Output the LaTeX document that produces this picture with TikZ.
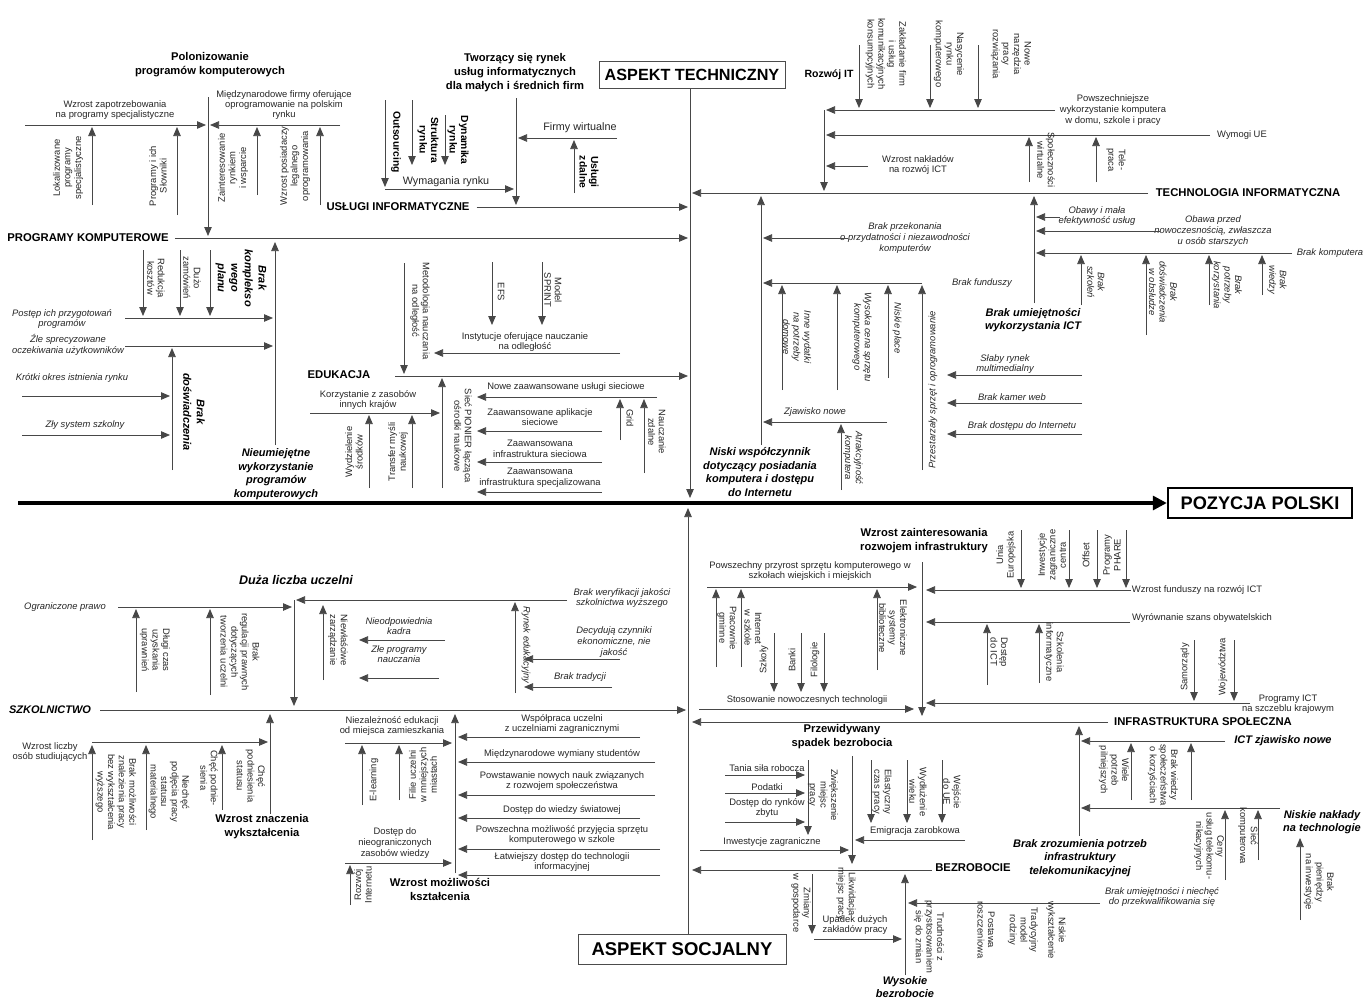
\documentclass[tikz,border=0pt]{standalone}
\usepackage{fontspec}
\setmainfont{Liberation Sans}
\usetikzlibrary{arrows.meta}
% \arw[style]{name}{from}{to}: named end points, then the connector between them
\newcommand\arw[4][arr]{\coordinate (#2a) at (#3);\coordinate (#2b) at (#4);\draw[#1] (#2a) -- (#2b);}
\begin{document}
\begin{tikzpicture}[x=1pt,y=-1pt,
  ln/.style={draw=black!72,line width=0.75pt},
  arr/.style={ln,-{Triangle[length=9pt,width=7.5pt]}},
  t/.style={font=\fontsize{9.4}{10.6}\selectfont,align=center,inner sep=0pt,text=black!85},
  ti/.style={t,font=\fontsize{9.4}{10.6}\selectfont\itshape},
  tv/.style={t,rotate=-90},
  tu/.style={t,rotate=90},
  tvi/.style={ti,rotate=-90},
  tui/.style={ti,rotate=90},
  hd/.style={font=\fontsize{11.3}{13}\selectfont\bfseries,inner sep=0pt,align=center},
  hb/.style={font=\fontsize{11.2}{14}\selectfont\bfseries,inner sep=0pt,align=center},
  hv/.style={font=\fontsize{10.3}{11.5}\selectfont\bfseries,inner sep=0pt,align=center,rotate=-90},
  hi/.style={font=\fontsize{11}{13.6}\selectfont\bfseries\itshape,inner sep=0pt,align=center},
  box/.style={draw=black!70,line width=0.8pt,inner sep=0pt,font=\bfseries}
]
\useasboundingbox[fill=white] (0,0) rectangle (1366,1001);

% ---------- spine and aspects ----------
\node[box,draw=black,line width=2.4pt,minimum width=184pt,minimum height=30pt,font=\fontsize{18.2}{20}\selectfont\bfseries] (pp) at (1260,503) {POZYCJA POLSKI};
\coordinate (sp0) at (18,503);
\draw[line width=3.2pt,-{Triangle[length=14pt,width=14pt]}] (sp0) -- (pp.west);
\node[box,minimum width=186pt,minimum height=27pt,font=\fontsize{16.2}{18}\selectfont\bfseries] (atech) at (692,75) {ASPEKT TECHNICZNY};
\node[box,minimum width=208pt,minimum height=30pt,font=\fontsize{18.5}{20}\selectfont\bfseries] (asoc) at (682,949) {ASPEKT SOCJALNY};
\coordinate (ctop) at (690,498);
\coordinate (cbot) at (688,508);
\draw[arr] (atech.south -| ctop) -- (ctop);
\draw[arr] (asoc.north -| cbot) -- (cbot);

% ---------- PROGRAMY KOMPUTEROWE ----------
\node[hd] (pk) at (88,238) {PROGRAMY KOMPUTEROWE};
\coordinate (pkE) at (688,238);
\draw[arr,shorten <=6pt] (pk.east) -- (pkE);
\node[hb] (pol) at (210,65) {Polonizowanie\\programów komputerowych};
\arw{p1}{208,97}{208,236}
\arw{p2}{25,125}{206,125}
\arw{p3}{340,125}{210,125}
\node[t] (pt1) at (115,110) {Wzrost zapotrzebowania\\na programy specjalistyczne};
\arw{p4}{92,205}{92,127}
\node[tu] (pt2) at (68,168) {Lokalizowane\\programy\\specjalistyczne};
\arw{p5}{177,215}{177,127}
\node[tu] (pt3) at (158,176) {Programy i ich\\Słowniki};
\node[t,font=\fontsize{9.4}{10.3}\selectfont] (pt4) at (284,105) {Międzynarodowe firmy oferujące\\oprogramowanie na polskim\\rynku};
\arw{p6}{257,195}{257,127}
\node[tu] (pt5) at (233,168) {Zainteresowanie\\rynkiem\\i wsparcie};
\arw{p7}{320,205}{320,127}
\node[tu] (pt6) at (295,166) {Wzrost posiadaczy\\legalnego\\oprogramowania};
\node[hi,rotate=-90] (pt7) at (241,278) {Brak\\komplekso\\wego\\planu};
\arw{p8}{143,250}{143,316}
\node[tv] (pt8) at (156,278) {Redukcja\\kosztów};
\arw{p9}{180,250}{180,316}
\node[tv] (pt9) at (192,278) {Dużo\\zamówień};
\arw{p10}{210,250}{210,316}
\node[ti] (pt10) at (62,319) {Postęp ich przygotowań\\programów};
\arw{p11}{125,318}{273,318}
\arw{pkm}{275,445}{275,242}
\node[ti] (pt11) at (68,345) {Źle sprecyzowane\\oczekiwania użytkowników};
\arw{p12}{125,346}{273,346}
\arw{p13}{172,470}{172,348}
\node[hi,rotate=-90] (pt12) at (194,412) {Brak\\doświadczenia};
\node[ti] (pt13) at (72,378) {Krótki okres istnienia rynku};
\arw{p14}{22,396}{170,396}
\node[ti] (pt14) at (85,425) {Zły system szkolny};
\arw{p15}{22,435}{170,435}
\node[hi] (pt15) at (276,474) {Nieumiejętne\\wykorzystanie\\programów\\komputerowych};

% ---------- USŁUGI INFORMATYCZNE ----------
\node[hd] (ui) at (398,207) {USŁUGI INFORMATYCZNE};
\coordinate (uiE) at (688,207);
\draw[arr,shorten <=7pt] (ui.east) -- (uiE);
\node[hb] (ut1) at (515,73) {Tworzący się rynek\\usług informatycznych\\dla małych i średnich firm};
\arw{u1}{516,98}{516,205}
\node[t,font=\fontsize{10.8}{12}\selectfont] (ut2) at (580,128) {Firmy wirtualne};
\arw{u2}{617,138}{518,138}
\arw{u3}{574,193}{574,140}
\node[hv] (ut3) at (589,172) {Usługi\\zdalne};
\node[t,font=\fontsize{10.8}{12}\selectfont] (ut4) at (446,182) {Wymagania rynku};
\arw{u4}{385,189}{514,189}
\arw{u5}{385,100}{385,187}
\node[hv] (ut5) at (396,142) {Outsourcing};
\arw{u6}{412,100}{412,165}
\node[hv] (ut6) at (428,140) {Struktura\\rynku};
\arw{u7}{445,115}{445,165}
\node[hv] (ut7) at (458,140) {Dynamika\\rynku};

% ---------- EDUKACJA ----------
\node[hd] (ed) at (339,375) {EDUKACJA};
\arw{edm}{395,376}{688,376}
\arw{e1}{404,263}{404,374}
\node[tv] (et1) at (420,311) {Metodologia nauczania\\na odległość};
\node[t] (et2) at (525,342) {Instytucje oferujące nauczanie\\na odległość};
\arw{e2}{620,353}{434,353}
\arw{e3}{492,262}{492,325}
\node[tv] (et3) at (501,292) {EFS};
\arw{e4}{542,262}{542,325}
\node[tv] (et4) at (553,290) {Model\\SPRINT};
\node[t] (et5) at (368,400) {Korzystanie z zasobów\\innych krajów};
\arw{e5}{310,413}{440,413}
\arw{ed1}{442,488}{442,378}
\arw{e6}{369,488}{369,415}
\node[tu] (et6) at (354,452) {Wydzielenie\\środków};
\arw{e7}{412,488}{412,415}
\node[tu] (et7) at (398,452) {Transfer myśli\\naukowej};
\node[tv] (et8) at (463,436) {Sieć PIONIER łącząca\\ośrodki naukowe};
\node[t] (et9) at (566,387) {Nowe zaawansowane usługi sieciowe};
\arw{e8}{657,397}{477,397}
\node[t] (et10) at (540,417) {Zaawansowane aplikacje\\sieciowe};
\arw{e9}{602,431}{477,431}
\node[t] (et11) at (540,449) {Zaawansowana\\infrastruktura sieciowa};
\arw{e10}{602,462}{477,462}
\node[t] (et12) at (540,478) {Zaawansowana\\infrastruktura specjalizowana};
\arw{e11}{602,492}{477,492}
\arw{e12}{620,440}{620,399}
\node[tv] (et13) at (630,418) {Grid};
\arw{e13}{644,473}{644,399}
\node[tv] (et14) at (657,432) {Nauczanie\\zdalne};

% ---------- TECHNOLOGIA INFORMATYCZNA ----------
\node[hd] (tin) at (1248,193) {TECHNOLOGIA INFORMATYCZNA};
\arw{tim}{1148,193}{692,193}
\node[hd,font=\fontsize{10.5}{12}\selectfont\bfseries] (rit) at (829,75) {Rozwój IT};
\arw{ti1}{824,110}{824,191}
\arw{ti2}{1055,110}{826,110}
\node[t] (tt1) at (1113,110) {Powszechniejsze\\wykorzystanie komputera\\w domu, szkole i pracy};
\arw{ti7}{859,45}{859,108}
\node[tv] (tt2) at (886,54) {Zakładanie firm\\i usług\\komunikacyjnych\\konsumpcyjnych};
\arw{ti8}{930,45}{930,108}
\node[tv] (tt3) at (949,54) {Nasycenie\\rynku\\komputerowego};
\arw{ti9}{978,45}{978,108}
\node[tv] (tt4) at (1011,54) {Nowe\\narzędzia\\pracy\\rozwiązania};
\arw{ti3}{1210,135}{826,135}
\node[t] (tt5) at (1242,135) {Wymogi UE};
\arw{ti4}{1029,182}{1029,137}
\node[tv] (tt6) at (1046,160) {Społeczności\\wirtualne};
\arw{ti5}{1096,182}{1096,137}
\node[tv] (tt7) at (1116,160) {Tele-\\praca};
\arw{ti6}{868,166}{826,166}
\node[t] (tt8) at (918,165) {Wzrost nakładów\\na rozwój ICT};

% ---------- Brak umiejętności wykorzystania ICT ----------
\arw{bu}{1034,303}{1034,196}
\node[hi] (bt1) at (1033,320) {Brak umiejętności\\wykorzystania ICT};
\node[ti] (bt2) at (1097,216) {Obawy i mała\\efektywność usług};
\arw{bu1}{1060,217}{1036,217}
\node[ti] (bt3) at (1213,231) {Obawa przed\\nowoczesnością, zwłaszcza\\u osób starszych};
\arw{bu2}{1160,231}{1036,231}
\node[ti] (bt4) at (1330,253) {Brak komputera};
\arw{bu3}{1292,253}{1036,253}
\arw{bu7}{1081,305}{1081,255}
\node[tvi] (bt5) at (1096,282) {Brak\\szkoleń};
\arw{bu8}{1146,335}{1146,255}
\node[tvi] (bt6) at (1163,292) {Brak\\doświadczenia\\w obsłudze};
\arw{bu9}{1209,305}{1209,255}
\node[tvi] (bt7) at (1227,285) {Brak\\potrzeby\\korzystania};
\arw{bu10}{1262,295}{1262,255}
\node[tvi] (bt8) at (1277,280) {Brak\\wiedzy};
\node[ti] (bt9) at (1005,364) {Słaby rynek\\multimedialny};
\arw{bu4}{1082,375}{947,375}
\node[ti] (bt10) at (1012,397) {Brak kamer web};
\arw{bu5}{1082,403}{947,403}
\node[ti] (bt11) at (1022,426) {Brak dostępu do Internetu};
\arw{bu6}{1082,434}{947,434}

% ---------- Niski współczynnik ----------
\arw{nw}{761,445}{761,196}
\node[hi] (nt1) at (760,472) {Niski współczynnik\\dotyczący posiadania\\komputera i dostępu\\do Internetu};
\node[ti] (nt2) at (905,238) {Brak przekonania\\o przydatności i niezawodności\\komputerów};
\arw{nw1}{848,238}{763,238}
\node[ti] (nt3) at (982,283) {Brak funduszy};
\arw{nw2}{922,283}{763,283}
\arw{nw5}{782,390}{782,285}
\node[tvi] (nt4) at (797,337) {Inne wydatki\\na potrzeby\\domowe};
\arw{nw6}{837,390}{837,285}
\node[tvi] (nt5) at (862,337) {Wysoka cena sprzętu\\komputerowego};
\arw{nw7}{888,378}{888,285}
\node[tvi] (nt6) at (897,328) {Niskie płace};
\arw{nw8}{922,470}{922,285}
\node[tui] (nt7) at (933,390) {Przestarzały sprzęt i oprogramowanie};
\node[ti] (nt8) at (815,412) {Zjawisko nowe};
\arw{nw3}{887,422}{763,422}
\arw{nw4}{841,490}{841,424}
\node[tvi] (nt9) at (853,458) {Atrakcyjność\\komputera};

% ---------- SZKOLNICTWO ----------
\node[hi] (sz) at (50,710) {SZKOLNICTWO};
\arw{szm}{100,710}{686,710}
\node[hi,font=\fontsize{12.5}{14}\selectfont\bfseries\itshape] (st1) at (296,580) {Duża liczba uczelni};
\arw{dl}{294,600}{294,706}
\node[ti] (st2) at (65,607) {Ograniczone prawo};
\arw{dl1}{118,607}{292,607}
\arw{dl2}{136,692}{136,609}
\node[tv] (st3) at (155,650) {Długi czas\\uzyskania\\uprawnień};
\arw{dl3}{210,695}{210,609}
\node[tv] (st4) at (240,652) {Brak\\regulacji prawnych\\dotyczących\\tworzenia uczelni};
\node[ti] (st5) at (622,598) {Brak weryfikacji jakości\\szkolnictwa wyższego};
\arw{dl4}{567,600}{296,600}
\arw{dl5}{515,693}{515,602}
\node[tvi] (st6) at (526,645) {Rynek edukacyjny};
\node[ti] (st7) at (614,642) {Decydują czynniki\\ekonomiczne, nie\\jakość};
\arw{dl6}{620,659}{524,659}
\node[ti] (st8) at (580,677) {Brak tradycji};
\arw{dl7}{612,687}{524,687}
\arw{dl8}{323,680}{323,605}
\node[tv] (st9) at (338,640) {Niewłaściwe\\zarządzanie};
\node[ti] (st10) at (399,626) {Nieodpowiednia\\kadra};
\arw{dl9}{445,640}{359,640}
\node[ti] (st11) at (399,654) {Złe programy\\nauczania};
\arw{dl10}{439,678}{359,678}
\node[t] (st12) at (50,752) {Wzrost liczby\\osób studiujących};
\arw{ws1}{92,742}{268,742}
\arw{wz}{270,814}{270,714}
\node[hb] (st13) at (262,827) {Wzrost znaczenia\\wykształcenia};
\arw{ws2}{92,840}{92,745}
\node[tv] (st14) at (116,792) {Brak możliwości\\znalezienia pracy\\bez wykształcenia\\wyższego};
\arw{ws3}{146,830}{146,745}
\node[tv] (st15) at (169,792) {Niechęć\\podjęcia pracy\\statusu\\materialnego};
\arw{ws4}{222,810}{222,745}
\node[tv] (st16) at (209,778) {Chęć podnie-\\sienia};
\node[tv] (st17) at (251,776) {Chęć\\podniesienia\\statusu};

% ---------- Wzrost możliwości kształcenia ----------
\arw{wm}{455,873}{455,714}
\node[hb] (mt1) at (440,889) {Wzrost możliwości\\kształcenia};
\node[t] (mt2) at (392,726) {Niezależność edukacji\\od miejsca zamieszkania};
\arw{wm1}{345,743}{452,743}
\arw{wm2}{362,805}{362,745}
\node[tu] (mt3) at (374,780) {E-learning};
\arw{wm3}{399,800}{399,745}
\node[tu] (mt4) at (423,775) {Filie uczelni\\w mniejszych\\miastach};
\node[t] (mt5) at (562,724) {Współpraca uczelni\\z uczelniami zagranicznymi};
\arw{wm4}{640,737}{458,737}
\node[t] (mt6) at (562,754) {Międzynarodowe wymiany studentów};
\arw{wm5}{655,762}{458,762}
\node[t] (mt7) at (562,781) {Powstawanie nowych nauk związanych\\z rozwojem społeczeństwa};
\arw{wm6}{655,795}{458,795}
\node[t] (mt8) at (562,810) {Dostęp do wiedzy światowej};
\arw{wm7}{640,818}{458,818}
\node[t] (mt9) at (562,835) {Powszechna możliwość przyjęcia sprzętu\\komputerowego w szkole};
\arw{wm8}{660,849}{458,849}
\node[t] (mt10) at (562,862) {Łatwiejszy dostęp do technologii\\informacyjnej};
\arw{wm9}{660,875}{458,875}
\node[t] (mt11) at (395,843) {Dostęp do\\nieograniczonych\\zasobów wiedzy};
\arw{wm10}{345,863}{452,863}
\arw{wm11}{350,905}{350,865}
\node[tu] (mt12) at (363,885) {Rozwój\\Internetu};

% ---------- Wzrost zainteresowania rozwojem infrastruktury ----------
\node[hb] (it1) at (924,541) {Wzrost zainteresowania\\rozwojem infrastruktury};
\arw{wi}{922,562}{922,716}
\node[t] (it2) at (810,571) {Powszechny przyrost sprzętu komputerowego w\\szkołach wiejskich i miejskich};
\arw{wi1}{707,587}{917,587}
\arw{wi2}{716,667}{716,589}
\node[tv] (it3) at (727,628) {Pracownie\\gminne};
\arw{wi3}{741,667}{741,589}
\node[tv] (it4) at (753,628) {Internet\\w szkole};
\arw{wi4}{877,670}{877,589}
\node[tv] (it5) at (893,628) {Elektroniczne\\systemy\\biblioteczne};
\node[t] (it6) at (1197,590) {Wzrost funduszy na rozwój ICT};
\arw{wi5}{1131,590}{926,590}
\arw{wi13}{1021,530}{1021,588}
\node[tu] (it7) at (1006,555) {Unia\\Europejska};
\arw{wi14}{1069,530}{1069,588}
\node[tu] (it8) at (1052,555) {Inwestycje\\zagraniczne\\centra};
\arw{wi15}{1097,530}{1097,588}
\node[tu] (it9) at (1086,555) {Offset};
\arw{wi16}{1126,530}{1126,588}
\node[tu] (it10) at (1112,555) {Programy\\PHARE};
\node[t] (it11) at (1202,618) {Wyrównanie szans obywatelskich};
\arw{wi6}{1130,622}{926,622}
\arw{wi7}{987,685}{987,624}
\node[tv] (it12) at (999,652) {Dostęp\\do ICT};
\arw{wi8}{1039,683}{1039,624}
\node[tv] (it13) at (1054,652) {Szkolenia\\informatyczne};
\node[t] (it14) at (1288,704) {Programy ICT\\na szczeblu krajowym};
\arw{wi9}{1250,703}{926,703}
\arw{wi10}{1194,640}{1194,701}
\node[tu] (it15) at (1185,667) {Samorządy};
\arw{wi11}{1234,640}{1234,701}
\node[tu] (it16) at (1223,667) {Województwa};
\node[t] (it17) at (807,700) {Stosowanie nowoczesnych technologii};
\arw{wi12}{699,709}{914,709}
\arw{wi17}{774,633}{774,692}
\node[tu] (it18) at (764,660) {Szkoły};
\arw{wi18}{801,633}{801,692}
\node[tu] (it19) at (792,660) {Banki};
\arw{wi19}{824,633}{824,692}
\node[tu] (it20) at (815,660) {Filologie};
\node[hd] (is) at (1203,722) {INFRASTRUKTURA SPOŁECZNA};
\arw{ism}{1108,722}{692,722}

% ---------- BEZROBOCIE ----------
\node[hb] (bz1) at (842,737) {Przewidywany\\spadek bezrobocia};
\arw{bzp}{852,756}{852,864}
\node[t] (bz2) at (767,768) {Tania siła robocza};
\arw{bz3}{725,775}{805,775}
\node[t] (bz4) at (767,787) {Podatki};
\arw{bz5}{725,793}{805,793}
\node[t] (bz6) at (767,808) {Dostęp do rynków\\zbytu};
\arw{bz7}{725,822}{805,822}
\arw{bz8}{808,760}{808,835}
\node[tv] (bz9) at (823,795) {Zwiększenie\\miejsc\\pracy};
\node[t] (bz10) at (772,842) {Inwestycje zagraniczne};
\arw{bz11}{700,850}{849,850}
\arw{bz12}{871,760}{871,823}
\node[tv] (bz13) at (882,792) {Elastyczny\\czas pracy};
\arw{bz14}{907,760}{907,823}
\node[tv] (bz15) at (918,792) {Wydłużenie\\wieku};
\arw{bz16}{942,760}{942,823}
\node[tv] (bz17) at (952,792) {Wejście\\do UE};
\node[t] (bz18) at (915,831) {Emigracja zarobkowa};
\arw{bz19}{965,840}{855,840}
\node[hd] (bzr) at (973,868) {BEZROBOCIE};
\arw{bzm}{932,870}{692,870}
\arw{bz20}{812,874}{812,934}
\node[tv] (bz21) at (801,903) {Zmiany\\w gospodarce};
\node[tv] (bz23) at (846,894) {Likwidacja\\miejsc pracy};
\node[t] (bz24) at (855,925) {Upadek dużych\\zakładów pracy};
\arw{bz22}{814,939}{902,939}
\arw{bz25}{905,975}{905,874}
\node[hi] (bz26) at (905,987) {Wysokie\\bezrobocie};
\node[ti] (bz27) at (1162,897) {Brak umiejętności i niechęć\\do przekwalifikowania się};
\arw{bz28}{1100,903}{908,903}
\node[tv] (bz29) at (929,937) {Trudności z\\przystosowaniem\\się do zmian};
\node[tv] (bz30) at (986,930) {Postawa\\roszczeniowa};
\node[tv] (bz31) at (1023,930) {Tradycyjny\\model\\rodziny};
\node[tv] (bz32) at (1056,930) {Niskie\\wykształcenie};

% ---------- Brak zrozumienia potrzeb infrastruktury ----------
\node[hi] (ct1) at (1283,741) {ICT zjawisko nowe};
\arw{ic}{1225,741}{1081,741}
\arw{icm}{1079,836}{1079,726}
\node[hi] (ct2) at (1080,858) {Brak zrozumienia potrzeb\\infrastruktury\\telekomunikacyjnej};
\arw{ic1}{1131,800}{1131,743}
\node[tv] (ct3) at (1114,770) {Wiele\\potrzeb\\pilniejszych};
\arw{ic2}{1191,800}{1191,743}
\node[tv] (ct4) at (1163,775) {Brak wiedzy\\społeczeństwa\\o korzyściach};
\node[hi] (ct5) at (1322,822) {Niskie nakłady\\na technologie};
\arw{ic3}{1280,808}{1081,808}
\arw{ic4}{1225,880}{1225,810}
\node[tv] (ct6) at (1209,846) {Ceny\\usług telekomu-\\nikacyjnych};
\arw{ic5}{1258,860}{1258,810}
\node[tv] (ct7) at (1248,836) {Sieć\\komputerowa};
\arw{ic6}{1300,920}{1300,838}
\node[tv] (ct8) at (1319,882) {Brak\\pieniędzy\\na inwestycje};
\end{tikzpicture}
\end{document}
